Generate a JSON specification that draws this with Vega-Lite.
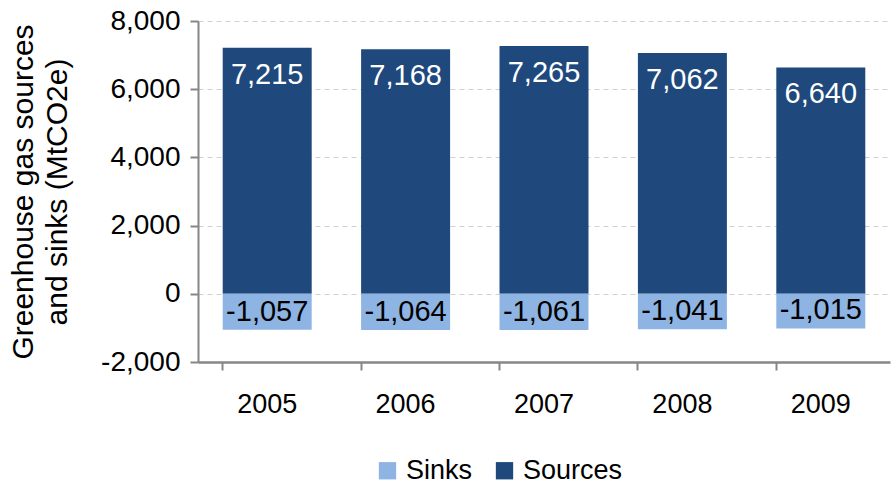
{
  "$schema": "https://vega.github.io/schema/vega-lite/v6.json",
  "width": 692,
  "height": 341,
  "autosize": {"type": "none"},
  "padding": {"left": 198, "top": 21, "right": 2, "bottom": 124},
  "background": "white",
  "config": {
    "view": {"stroke": null},
    "font": "Liberation Sans",
    "axis": {"labelFont": "Liberation Sans", "titleFont": "Liberation Sans"}
  },
  "data": {
    "values": [
      {"year": "2005", "type": "Sources", "value": 7215},
      {"year": "2006", "type": "Sources", "value": 7168},
      {"year": "2007", "type": "Sources", "value": 7265},
      {"year": "2008", "type": "Sources", "value": 7062},
      {"year": "2009", "type": "Sources", "value": 6640},
      {"year": "2005", "type": "Sinks", "value": -1057},
      {"year": "2006", "type": "Sinks", "value": -1064},
      {"year": "2007", "type": "Sinks", "value": -1061},
      {"year": "2008", "type": "Sinks", "value": -1041},
      {"year": "2009", "type": "Sinks", "value": -1015}
    ]
  },
  "transform": [
    {"calculate": "replace(format(datum.value, ','), '\u2212', '-')", "as": "label"}
  ],
  "encoding": {
    "x": {
      "field": "year",
      "type": "nominal",
      "scale": {"paddingInner": 0.357, "paddingOuter": 0.1785},
      "axis": {
        "title": null,
        "labelAngle": 0,
        "labelFontSize": 27,
        "labelColor": "black",
        "labelPadding": 21,
        "bandPosition": 0,
        "tickSize": 8,
        "tickColor": "#868686",
        "tickWidth": 2,
        "domainColor": "#868686",
        "domainWidth": 2.5
      }
    },
    "y": {
      "field": "value",
      "type": "quantitative",
      "stack": null,
      "scale": {"domain": [-2000, 8000], "nice": false},
      "axis": {
        "values": [-2000, 0, 2000, 4000, 6000, 8000],
        "labelExpr": "replace(format(datum.value, ','), '\u2212', '-')",
        "title": ["Greenhouse gas sources", "and sinks (MtCO2e)"],
        "titleFontSize": 30,
        "titleFontWeight": "normal",
        "titleColor": "black",
        "titleLineHeight": 34,
        "titlePadding": 28,
        "labelFontSize": 28,
        "labelColor": "black",
        "labelPadding": 10,
        "tickSize": 8,
        "tickColor": "#868686",
        "tickWidth": 2,
        "domainColor": "#868686",
        "domainWidth": 2,
        "grid": true,
        "gridColor": "#d0d0d0",
        "gridDash": [5, 4],
        "gridWidth": 1
      }
    }
  },
  "layer": [
    {
      "mark": {"type": "bar"},
      "encoding": {
        "color": {
          "field": "type",
          "type": "nominal",
          "sort": ["Sinks", "Sources"],
          "scale": {"domain": ["Sinks", "Sources"], "range": ["#8EB4E3", "#1F497D"]},
          "legend": {
            "title": null,
            "orient": "none",
            "direction": "horizontal",
            "legendX": 176,
            "legendY": 436,
            "symbolType": "square",
            "symbolSize": 300,
            "symbolStrokeWidth": 0,
            "symbolOpacity": 1,
            "labelFontSize": 27,
            "labelColor": "black",
            "labelOffset": 5,
            "columnPadding": 18
          }
        }
      }
    },
    {
      "transform": [{"filter": "datum.type === 'Sources'"}],
      "mark": {"type": "text", "baseline": "middle", "align": "center", "dy": 27, "fontSize": 29, "color": "white"},
      "encoding": {"text": {"field": "label"}}
    },
    {
      "transform": [{"filter": "datum.type === 'Sinks'"}],
      "mark": {"type": "text", "baseline": "middle", "align": "center", "dy": -18, "fontSize": 29, "color": "black"},
      "encoding": {"text": {"field": "label"}}
    }
  ]
}
